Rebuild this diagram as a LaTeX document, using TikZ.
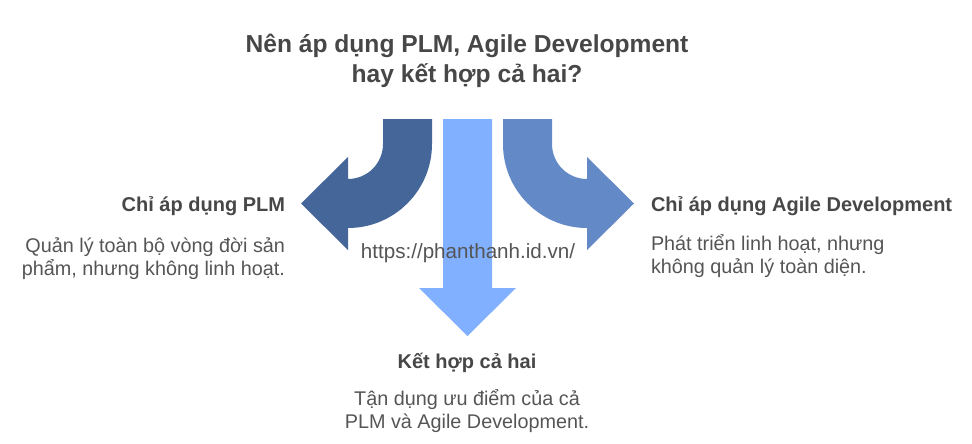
\documentclass[tikz,border=0pt]{standalone}
\usepackage{fontspec}
\setmainfont{Liberation Sans}
\definecolor{plmblue}{HTML}{456699}
\definecolor{bothblue}{HTML}{80B0FF}
\definecolor{agileblue}{HTML}{6389C7}
\definecolor{headgray}{HTML}{474747}
\definecolor{textgray}{HTML}{555555}

\begin{document}
\begin{tikzpicture}[x=1pt, y=-1pt,
  every node/.style = {inner sep=0pt, outer sep=0pt},
  head/.style = {font=\fontsize{20}{23}\selectfont\bfseries, text=headgray},
  body/.style = {font=\fontsize{19.8}{23}\selectfont, text=textgray}]
  \useasboundingbox (0,0) rectangle (972,444);
  % the three arrows
  \fill[plmblue] (383,119) -- (432,119) -- (432,144) arc (0:90:84)
    -- (348,250) -- (301,203.5) -- (348,157) -- (348,179) arc (90:0:35) -- cycle;
  \fill[bothblue] (443,119) -- (492,119) -- (492,288) -- (516,288)
    -- (467.5,336) -- (419,288) -- (443,288) -- cycle;
  \fill[agileblue] (552,119) -- (503,119) -- (503,144) arc (180:90:84)
    -- (587,250) -- (634,203.5) -- (587,157) -- (587,179) arc (90:180:35) -- cycle;
  % texts
  \node[font=\fontsize{24.6}{30}\selectfont\bfseries, text=headgray, align=center]
    (title) at (467,61) {Nên áp dụng PLM, Agile Development\\hay kết hợp cả hai?};
  \node[head, anchor=east] (plmHead) at (285,206) {Chỉ áp dụng PLM};
  \node[body, align=right, anchor=east] (plmText) at (285,259)
    {Quản lý toàn bộ vòng đời sản\\phẩm, nhưng không linh hoạt.};
  \node[head, anchor=west] (agileHead) at (651,206) {Chỉ áp dụng Agile Development};
  \node[body, align=left, anchor=west] (agileText) at (651,256)
    {Phát triển linh hoạt, nhưng\\không quản lý toàn diện.};
  \node[head] (bothHead) at (467,363) {Kết hợp cả hai};
  \node[body, align=center] (bothText) at (467,411)
    {Tận dụng ưu điểm của cả\\PLM và Agile Development.};
  \node[body, font=\fontsize{20.6}{23}\selectfont] (url) at (468,253) {https://phanthanh.id.vn/};
\end{tikzpicture}
\end{document}
